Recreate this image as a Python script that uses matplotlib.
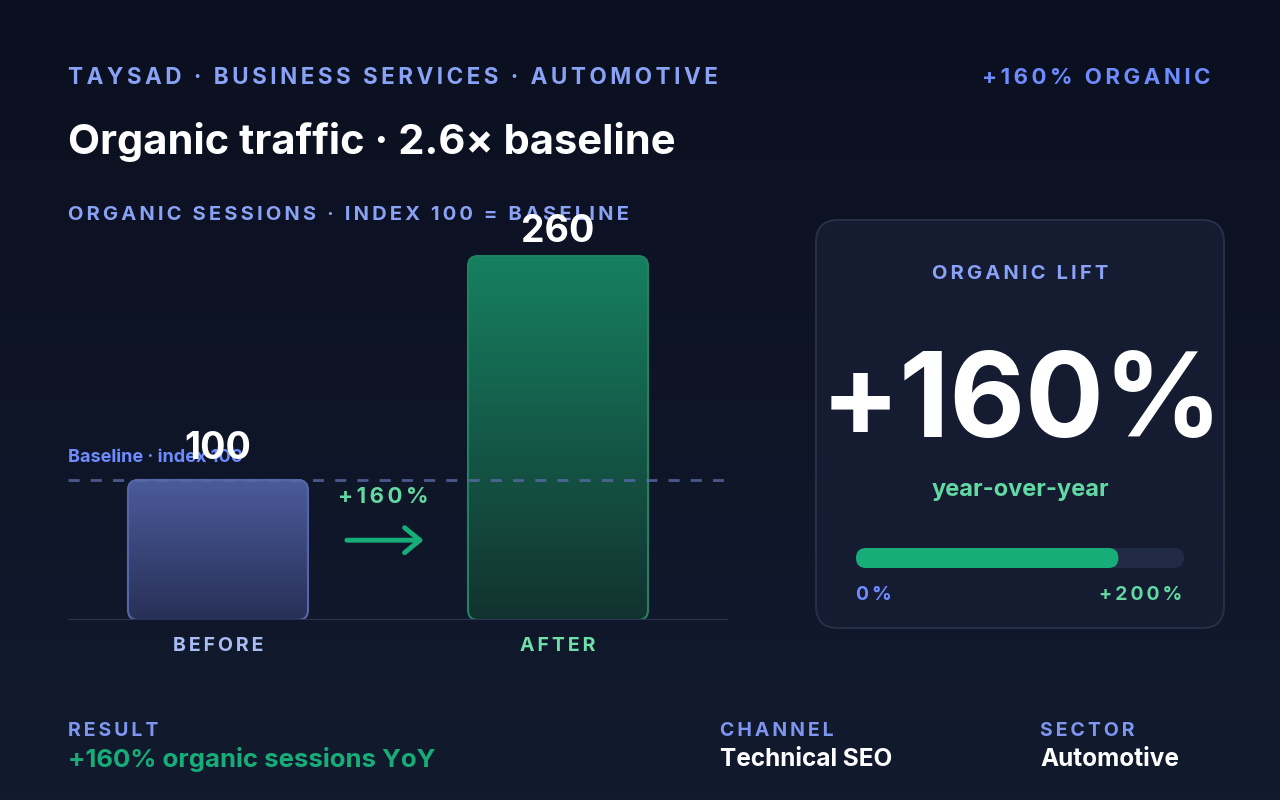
import matplotlib
matplotlib.use("Agg")
import matplotlib.pyplot as plt
import numpy as np
from matplotlib.patches import FancyBboxPatch
from matplotlib.colors import LinearSegmentedColormap

plt.rcParams['font.family'] = ['Inter', 'DejaVu Sans']

# data
categories = ['BEFORE', 'AFTER']
index_values = [100, 260]
baseline = 100
lift_pct = 160
lift_max = 200

kicker = 'TAYSAD · BUSINESS SERVICES · AUTOMOTIVE'
badge = '+160% ORGANIC'
title = 'Organic traffic · 2.6× baseline'
subtitle = 'ORGANIC SESSIONS · INDEX 100 = BASELINE'
footer_labels = ['RESULT', 'CHANNEL', 'SECTOR']
footer_values = ['+160% organic sessions YoY', 'Technical SEO', 'Automotive']

BLUE_LBL = '#8aa2f5'
BLUE_SAT = '#6e8cff'
GREEN = '#17ad78'
GREEN_LT = '#62d9a2'


def spaced(s):
    return '\u2009'.join(s)


fig = plt.figure(figsize=(12.8, 8), dpi=100)

# background, pixel coords
bg = fig.add_axes([0, 0, 1, 1])
bg.axis('off')
grad = np.linspace(0, 1, 256).reshape(-1, 1)
bg.imshow(grad, extent=[0, 1280, 800, 0], aspect='auto', zorder=0,
          cmap=LinearSegmentedColormap.from_list('bg', ['#0b1020', '#121a2e']))
bg.set_xlim(0, 1280)
bg.set_ylim(800, 0)

bg.text(68, 78, spaced(kicker), color=BLUE_LBL, fontsize=16.2, fontweight='bold', va='center')
bg.text(1210, 78, spaced(badge), color=BLUE_SAT, fontsize=16, fontweight='bold', va='center', ha='right')
bg.text(68, 142, title, color='white', fontsize=30, fontweight='bold', va='center')
bg.text(68, 215, spaced(subtitle), color=BLUE_LBL, fontsize=14.5, fontweight='bold', va='center')

# card
card = FancyBboxPatch((816, 220), 408, 408, boxstyle='round,pad=0,rounding_size=22',
                      fc='#151b30', ec='#262f48', lw=1.5, zorder=1)
bg.add_patch(card)
bg.text(1020, 274, spaced('ORGANIC LIFT'), color=BLUE_LBL, fontsize=14.5, fontweight='bold',
        ha='center', va='center', zorder=2)
bg.text(1022, 406, f'+{lift_pct}%', color='white', fontsize=84, fontweight='bold',
        ha='center', va='center', zorder=2)
bg.text(1020, 490, 'year-over-year', color=GREEN_LT, fontsize=17, fontweight='bold',
        ha='center', va='center', zorder=2)
track_x, track_w = 856, 328
bg.add_patch(FancyBboxPatch((track_x, 548), track_w, 20, boxstyle='round,pad=0,rounding_size=10',
                            fc='#222b45', ec='none', zorder=2))
bg.add_patch(FancyBboxPatch((track_x, 548), track_w * lift_pct / lift_max, 20,
                            boxstyle='round,pad=0,rounding_size=10', fc=GREEN, ec='none', zorder=3))
bg.text(856, 595, spaced('0%'), color=BLUE_SAT, fontsize=14, fontweight='bold', va='center', zorder=2)
bg.text(1182, 595, spaced(f'+{lift_max}%'), color=GREEN_LT, fontsize=14, fontweight='bold',
        va='center', ha='right', zorder=2)

# footer
for x, lab, val, col in zip([68, 720, 1040], footer_labels, footer_values, [GREEN, 'white', 'white']):
    bg.text(x, 731, spaced(lab), color='#7f96f0', fontsize=14, fontweight='bold', va='center')
    bg.text(x, 759, val, color=col, fontsize=18.5 if col == GREEN else 17.5, fontweight='bold', va='center')

# bar chart
ax = fig.add_axes([68 / 1280, 180 / 800, 660 / 1280, 400 / 800])
ax.patch.set_alpha(0)
ax.axis('off')

bar_w = 180 / 340
grads = [('#4b5b9b', '#283056', '#5566a8'), ('#16805f', '#123230', '#1f8362')]
for i, (v, (ctop, cbot, cedge)) in enumerate(zip(index_values, grads)):
    x0 = i - bar_w / 2
    patch = FancyBboxPatch((x0, 0), bar_w, v, boxstyle='round,pad=0,rounding_size=%f' % (10 / 340),
                           mutation_aspect=340 / 1.4, fc='none', ec=cedge, lw=1.5, zorder=3)
    ax.add_patch(patch)
    cm = LinearSegmentedColormap.from_list('b%d' % i, [ctop, cbot])
    im = ax.imshow(grad, extent=[x0, x0 + bar_w, 0, v], aspect='auto', cmap=cm, zorder=2,
                   origin='upper')
    im.set_clip_path(patch)
    off = 22 if v == baseline else 17
    ax.text(i, v + off, str(v), color='white', fontsize=27, fontweight='bold', ha='center', va='center', zorder=5)

ax.set_xlim(-150 / 340, 510 / 340)
ax.set_ylim(0, 400 / 1.4)

ax.axhline(baseline, color='#5a6aa8', lw=2, ls=(0, (4, 4)), alpha=0.8, zorder=4)
ax.text(-150 / 340, baseline + 16, 'Baseline · index 100', color=BLUE_SAT, fontsize=13,
        fontweight='bold', va='center', zorder=4)
ax.axhline(0, color='#2a3350', lw=1.5, zorder=4)

# lift arrow
ax.text(0.485, (620 - 497) / 1.4, spaced(f'+{lift_pct}%'), color=GREEN_LT, fontsize=16,
        fontweight='bold', ha='center', va='center')
ax.annotate('', xy=(0.605, 57), xytext=(0.379, 57),
            arrowprops=dict(arrowstyle='->,head_length=1.1,head_width=0.9', color=GREEN, lw=3.5,
                            shrinkA=0, shrinkB=0, capstyle='round'))

lab_colors = ['#a9bdf5', '#6ee0a8']
for i, (c, col) in enumerate(zip(categories, lab_colors)):
    bg.text(218 + 340 * i, 646, spaced(c), color=col, fontsize=14, fontweight='bold',
            ha='center', va='center')

fig.savefig('out.png', dpi=100, facecolor='#0b1020')
